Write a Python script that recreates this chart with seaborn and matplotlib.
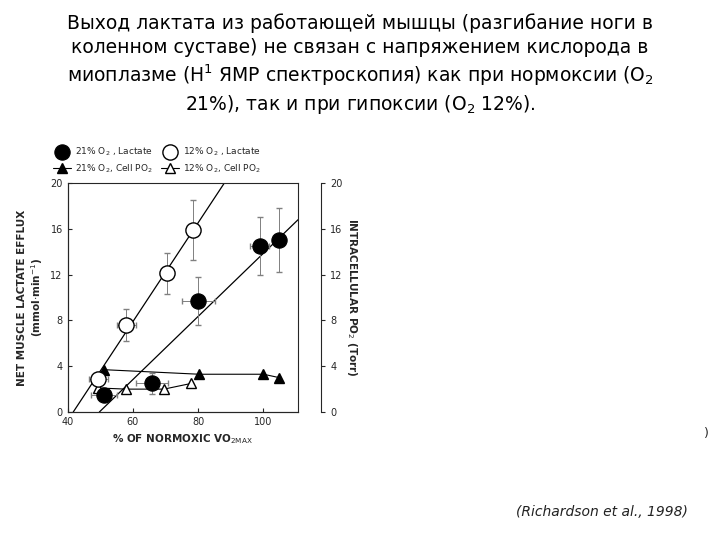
import numpy as np
import seaborn as sns
import matplotlib.pyplot as plt

sns.set_style("ticks")
plt.rcParams['font.family'] = ['DejaVu Sans']

# 21% O2 lactate (filled circles)
lac21_x = [51.0, 65.8, 80.0, 98.8, 104.9]
lac21_y = [1.5, 2.5, 9.7, 14.5, 15.0]
lac21_xerr = [4, 5, 5, 3, 0]
lac21_yerr = [0.3, 0.9, 2.1, 2.5, 2.8]
# 12% O2 lactate (open circles)
lac12_x = [49.4, 58.0, 70.3, 78.3]
lac12_y = [2.9, 7.6, 12.1, 15.9]
lac12_xerr = [3, 3, 0, 0]
lac12_yerr = [0.4, 1.4, 1.8, 2.6]
# cell PO2
po21_x = [51.0, 80.3, 100.0, 104.9]
po21_y = [3.7, 3.3, 3.3, 3.0]
po12_x = [49.4, 58.0, 69.5, 77.9]
po12_y = [2.1, 2.0, 2.0, 2.5]
# regression lines (endpoints)
fit12_x = [41.7, 88.0]
fit12_y = [0, 20]
fit21_x = [49.7, 110.6]
fit21_y = [0, 16.8]

fig = plt.figure(figsize=(7.2, 5.4), dpi=100)
fig.text(0.5, 0.975,
         "Выход лактата из работающей мышцы (разгибание ноги в\n"
         "коленном суставе) не связан с напряжением кислорода в\n"
         "миоплазме (H$^1$ ЯМР спектроскопия) как при нормоксии (O$_2$\n"
         "21%), так и при гипоксии (O$_2$ 12%).",
         ha="center", va="top", fontsize=13.5, linespacing=1.3, color="black")

ax = fig.add_axes([0.094, 0.237, 0.32, 0.424])
k = dict(color="black", lw=0.9)
ax.plot(fit12_x, fit12_y, **k)
ax.plot(fit21_x, fit21_y, **k)
ax.errorbar(lac21_x, lac21_y, xerr=lac21_xerr, yerr=lac21_yerr, fmt="none", ecolor="gray", elinewidth=0.7, capsize=2)
ax.errorbar(lac12_x, lac12_y, xerr=lac12_xerr, yerr=lac12_yerr, fmt="none", ecolor="gray", elinewidth=0.7, capsize=2)
ax.plot(po21_x, po21_y, color="black", lw=0.8, marker="^", ms=6.5, mfc="black", label="21% O$_2$, Cell PO$_2$")
ax.plot(po12_x, po12_y, color="black", lw=0.8, marker="^", ms=6.5, mfc="white", label="12% O$_2$, Cell PO$_2$")
sns.scatterplot(x=lac21_x, y=lac21_y, ax=ax, s=120, color="black", edgecolor="black", zorder=5, label="21% O$_2$ , Lactate")
sns.scatterplot(x=lac12_x, y=lac12_y, ax=ax, s=120, facecolor="white", edgecolor="black", linewidth=1, zorder=5, label="12% O$_2$ , Lactate")
ax.set_xlim(40, 110.6)
ax.set_ylim(0, 20)
ax.set_xticks([40, 60, 80, 100])
ax.set_yticks([0, 4, 8, 12, 16, 20])
ax.tick_params(labelsize=7, direction="in", length=3)
ax.set_ylabel("NET MUSCLE LACTATE EFFLUX\n(mmol$\\cdot$min$^{-1}$)", fontsize=7.5, fontweight="bold")
ax.set_xlabel("% OF NORMOXIC VO$_{2\\mathrm{MAX}}$", fontsize=7.5, fontweight="bold")
for s in ax.spines.values():
    s.set_linewidth(0.8)

h, l = ax.get_legend_handles_labels()
order = [2, 0, 3, 1]
ax.legend([h[i] for i in order], [l[i] for i in order], ncol=2, fontsize=6.5, frameon=False,
          loc="lower left", bbox_to_anchor=(-0.1, 1.0), handletextpad=0.5, columnspacing=0.8)

ax2 = ax.twinx()
ax2.set_ylim(0, 20)
ax2.set_yticks([0, 4, 8, 12, 16, 20])
ax2.spines["right"].set_position(("axes", 1.1))
ax2.spines["top"].set_visible(False)
ax2.tick_params(labelsize=7, direction="out", length=3)
ax2.set_ylabel("INTRACELLULAR PO$_2$ (Torr)", fontsize=7.5, fontweight="bold", rotation=270, labelpad=12)

fig.text(0.985, 0.19, ")", fontsize=9, ha="right")
fig.text(0.955, 0.045, "(Richardson et al., 1998)", fontsize=10, style="italic", ha="right", color="#222222")

fig.savefig("out.png", dpi=100)
